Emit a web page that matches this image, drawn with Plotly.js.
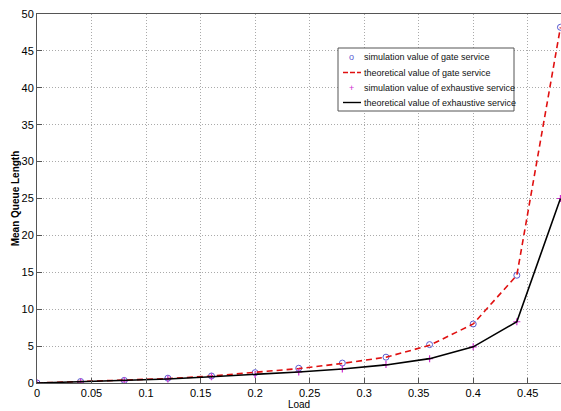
<!DOCTYPE html>
<html><head><meta charset="utf-8">
<script src="https://cdn.plot.ly/plotly-3.0.1.min.js"></script>
<style>html,body{margin:0;padding:0;background:#fff}#chart{width:561px;height:411px}</style>
</head><body><div id="chart"></div>
<script>
const load = [0, 0.04, 0.08, 0.12, 0.16, 0.20, 0.24, 0.28, 0.32, 0.36, 0.40, 0.44, 0.48];
const gateSim = [0, 0.2, 0.35, 0.65, 0.95, 1.4, 2.0, 2.7, 3.5, 5.2, 8.0, 14.6, 48.2];
const gateTheory = [0, 0.2, 0.35, 0.6, 0.95, 1.4, 1.95, 2.65, 3.5, 5.1, 8.0, 14.6, 48.2];
const exhSim = [0, 0.15, 0.3, 0.55, 0.85, 1.15, 1.5, 1.9, 2.5, 3.3, 4.9, 8.3, 25.0];
const exhTheory = [0, 0.15, 0.3, 0.55, 0.85, 1.15, 1.5, 1.9, 2.45, 3.3, 4.9, 8.3, 25.0];
const names = ['simulation value of gate service','theoretical value of gate service','simulation value of exhaustive service','theoretical value of exhaustive service'];
const xTicks = [0, 0.05, 0.1, 0.15, 0.2, 0.25, 0.3, 0.35, 0.4, 0.45];
const yTicks = [0, 5, 10, 15, 20, 25, 30, 35, 40, 45, 50];

const font = 'Liberation Sans, Arial, sans-serif';
const gateColor = '#5a5ad0', gateLine = '#e01010', exhColor = '#d030d0', exhLine = '#000000';
const traces = [
  {x: load, y: gateSim, name: names[0], mode: 'markers', type: 'scatter',
   marker: {symbol: 'circle-open', size: 6, color: gateColor, line: {width: 1}}},
  {x: load, y: gateTheory, name: names[1], mode: 'lines', type: 'scatter',
   line: {color: gateLine, width: 1.6, dash: '6px,4px'}},
  {x: load, y: exhSim, name: names[2], mode: 'markers', type: 'scatter',
   marker: {symbol: 'cross-thin-open', size: 5, color: exhColor, line: {width: 1.2, color: exhColor}}},
  {x: load, y: exhTheory, name: names[3], mode: 'lines', type: 'scatter',
   line: {color: exhLine, width: 1.6}}
];

// custom compact legend (pixel -> paper helpers)
const M = {l: 37, r: 0, t: 14, b: 28}, W = 561, H = 411;
const px = v => (v - M.l) / (W - M.l - M.r);
const py = v => (H - M.b - v) / (H - M.t - M.b);
const legBox = {x0: 338, x1: 514, y0: 48, y1: 111};
const rowY = [57, 72.5, 87.5, 102.5];
const shapes = [
  {type: 'rect', xref: 'paper', yref: 'paper', x0: px(legBox.x0), x1: px(legBox.x1), y0: py(legBox.y1), y1: py(legBox.y0),
   line: {color: '#555', width: 1}, fillcolor: '#fff', layer: 'above'},
  {type: 'line', xref: 'paper', yref: 'paper', x0: px(343), x1: px(361), y0: py(rowY[1]), y1: py(rowY[1]),
   line: {color: gateLine, width: 1.6, dash: '5px,2px'}, layer: 'above'},
  {type: 'line', xref: 'paper', yref: 'paper', x0: px(343), x1: px(361), y0: py(rowY[3]), y1: py(rowY[3]),
   line: {color: exhLine, width: 1.4}, layer: 'above'}
];
const annotations = names.map((n, i) => ({
  xref: 'paper', yref: 'paper', x: px(362), y: py(rowY[i]), xanchor: 'left', yanchor: 'middle',
  text: n, showarrow: false, font: {size: 9, family: font, color: '#111'}
}));
annotations.push({xref: 'paper', yref: 'paper', x: px(351), y: py(rowY[0]), xanchor: 'center', yanchor: 'middle',
  text: 'o', showarrow: false, font: {size: 9, family: font, color: gateColor}});
annotations.push({xref: 'paper', yref: 'paper', x: px(351), y: py(rowY[2]), xanchor: 'center', yanchor: 'middle',
  text: '+', showarrow: false, font: {size: 9, family: font, color: exhColor}});

const layout = {
  width: W, height: H,
  margin: M,
  paper_bgcolor: '#fff', plot_bgcolor: '#fff',
  font: {family: font, size: 11, color: '#000'},
  showlegend: false,
  xaxis: {range: [0, 0.4805], tickvals: xTicks, ticktext: xTicks.map(String),
    showgrid: true, gridcolor: '#aaaaaa', griddash: '1px,2px', gridwidth: 1,
    zeroline: false, showline: true, linecolor: '#555', linewidth: 1, mirror: true,
    ticks: 'inside', ticklen: 5, tickcolor: '#555', tickfont: {size: 11},
    title: {text: 'Load', font: {size: 10}, standoff: 2}},
  yaxis: {range: [0, 50], tickvals: yTicks, ticktext: yTicks.map(String),
    showgrid: true, gridcolor: '#aaaaaa', griddash: '1px,2px', gridwidth: 1,
    zeroline: false, showline: true, linecolor: '#555', linewidth: 1, mirror: true,
    ticks: 'inside', ticklen: 5, tickcolor: '#555', tickfont: {size: 11},
    title: {text: '<b>Mean Queue Length</b>', font: {size: 10}, standoff: 0}},
  shapes: shapes,
  annotations: annotations
};
Plotly.newPlot('chart', traces, layout, {displayModeBar: false, staticPlot: true});
</script></body></html>
